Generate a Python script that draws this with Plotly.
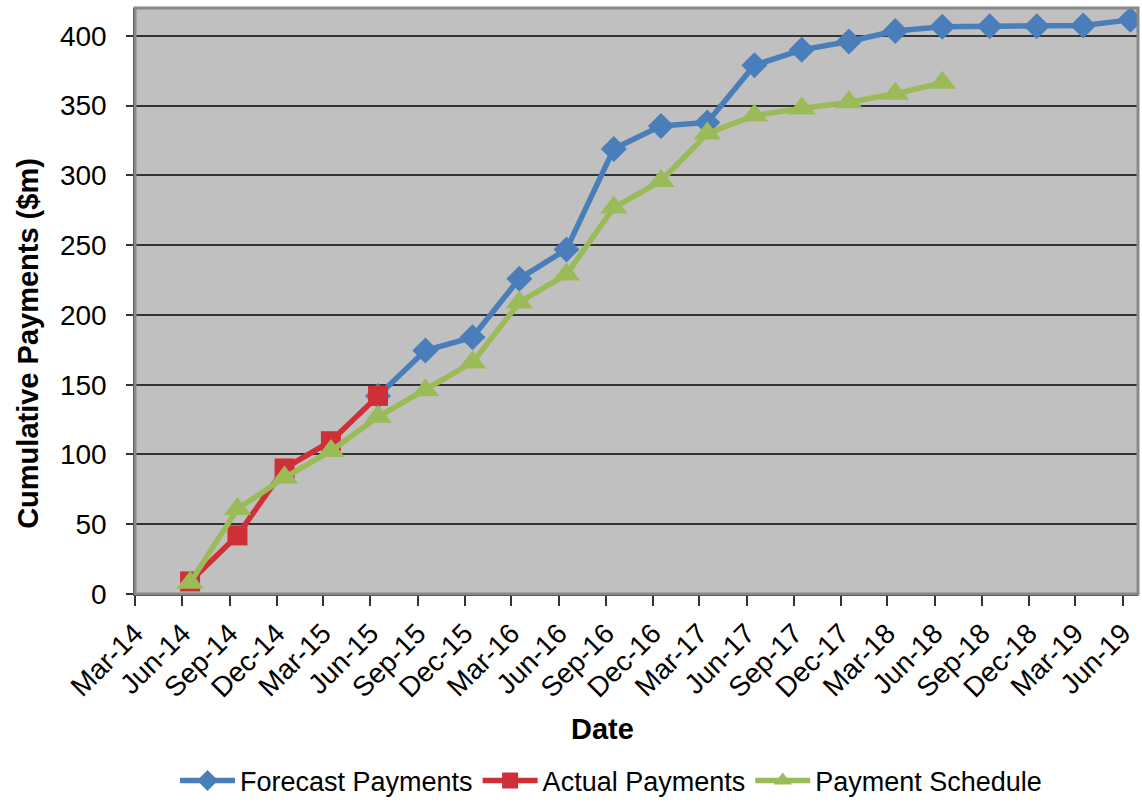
import plotly.graph_objects as go

# Quarter-end months for each series
forecast_months = ["2015-06", "2015-09", "2015-12", "2016-03", "2016-06", "2016-09",
                   "2016-12", "2017-03", "2017-06", "2017-09", "2017-12", "2018-03",
                   "2018-06", "2018-09", "2018-12", "2019-03", "2019-06"]
forecast_values = [142, 174.5, 184, 226, 247, 319, 335.5, 338, 379, 390, 396, 403.5,
                   406.5, 407, 407, 407.5, 411.5]

actual_months = ["2014-06", "2014-09", "2014-12", "2015-03", "2015-06"]
actual_values = [9, 42, 90, 109.5, 142]

schedule_months = ["2014-06", "2014-09", "2014-12", "2015-03", "2015-06", "2015-09",
                   "2015-12", "2016-03", "2016-06", "2016-09", "2016-12", "2017-03",
                   "2017-06", "2017-09", "2017-12", "2018-03", "2018-06"]
schedule_values = [8, 61, 83.5, 102.5, 127, 146, 166, 209, 229, 277, 296, 330,
                   343, 348, 352.5, 358.5, 366.5]

FONT = "Arial, Liberation Sans, sans-serif"
BLUE = "#4A7EBB"
RED = "#CF3038"
GREEN = "#9BBB59"

fig = go.Figure()


def add_series(name, months, values, color, symbol, size):
    fig.add_trace(go.Scatter(
        x=months, y=values, name=name, mode="lines+markers",
        xperiod="M1", xperiodalignment="middle",
        line=dict(color=color, width=5.5),
        marker=dict(symbol=symbol, size=size, color=color),
    ))


add_series("Forecast Payments", forecast_months, forecast_values, BLUE, "diamond", 20)
add_series("Actual Payments", actual_months, actual_values, RED, "square", 20)
add_series("Payment Schedule", schedule_months, schedule_values, GREEN, "triangle-up", 24)

fig.update_layout(
    width=1142, height=809,
    margin=dict(l=135, r=4, t=8, b=206),
    paper_bgcolor="white",
    plot_bgcolor="#C0C0C0",
    font=dict(family=FONT, size=28, color="black"),
    showlegend=True,
    legend=dict(
        orientation="h", x=0.4746, xanchor="center", y=-0.319, yanchor="middle",
        font=dict(size=27), itemwidth=55, tracegroupgap=0,
        bgcolor="rgba(0,0,0,0)",
    ),
    xaxis=dict(
        type="date",
        range=["2014-03-01", "2019-07-01"],
        tick0="2014-03-01", dtick="M3", tickformat="%b-%y",
        tickangle=-45,
        ticks="outside", ticklen=10, tickcolor="#333", tickwidth=1.5,
        tickfont=dict(size=28),
        showgrid=False, zeroline=False,
        showline=True, linecolor="#333", linewidth=1.5,
        automargin=False,
    ),
    yaxis=dict(
        range=[0, 420], tick0=0, dtick=50,
        ticks="outside", ticklen=7, tickcolor="#333", tickwidth=1.5,
        tickfont=dict(size=28),
        ticklabelstandoff=14,
        showgrid=True, gridcolor="#333", gridwidth=1.5,
        zeroline=False,
        showline=True, linecolor="#333", linewidth=1.5,
        automargin=False,
    ),
    shapes=[dict(type="rect", xref="paper", yref="paper", x0=0, y0=0, x1=1, y1=1,
                 line=dict(color="#888888", width=3), layer="above")],
    annotations=[
        dict(text="<b>Cumulative Payments ($m)</b>", xref="paper", yref="paper",
             x=-0.1067, y=0.4286, xanchor="center", yanchor="middle", textangle=-90,
             showarrow=False, font=dict(size=29)),
        dict(text="<b>Date</b>", xref="paper", yref="paper",
             x=0.4666, y=-0.230, xanchor="center", yanchor="middle",
             showarrow=False, font=dict(size=29)),
    ],
)

fig.write_html("out.html")
